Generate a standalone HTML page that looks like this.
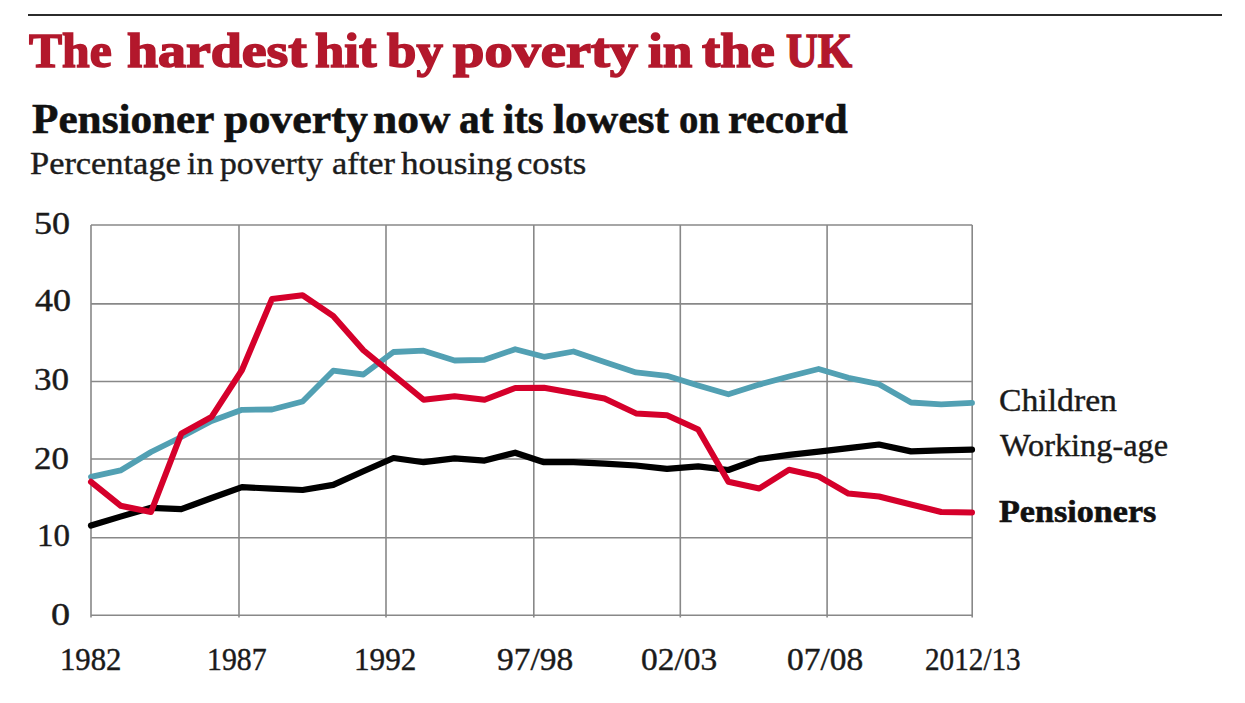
<!DOCTYPE html>
<html><head><meta charset="utf-8">
<style>
html,body{margin:0;padding:0;background:#fff;}
body{width:1245px;height:703px;position:relative;overflow:hidden;}
.t{position:absolute;white-space:nowrap;line-height:1;margin:0;font-family:"Liberation Serif",serif;transform-origin:0 0;}
svg{position:absolute;left:0;top:0;}
</style></head><body>
<svg width="1245" height="703" viewBox="0 0 1245 703">
<line x1="28" y1="15" x2="1222" y2="15" stroke="#2b2b2b" stroke-width="2"/>
<g stroke="#888888" stroke-width="1.6" fill="none">
<line x1="91" y1="225" x2="972.2" y2="225"/>
<line x1="91" y1="303.9" x2="972.2" y2="303.9"/>
<line x1="91" y1="381.5" x2="972.2" y2="381.5"/>
<line x1="91" y1="459" x2="972.2" y2="459"/>
<line x1="91" y1="537.8" x2="972.2" y2="537.8"/>
<line x1="91" y1="615.3" x2="972.2" y2="615.3"/>
<line x1="91" y1="225" x2="91" y2="617.5"/>
<line x1="239" y1="225" x2="239" y2="617.5"/>
<line x1="386" y1="225" x2="386" y2="617.5"/>
<line x1="533.8" y1="225" x2="533.8" y2="617.5"/>
<line x1="680.3" y1="225" x2="680.3" y2="617.5"/>
<line x1="827.1" y1="225" x2="827.1" y2="617.5"/>
<line x1="972.2" y1="225" x2="972.2" y2="617.5"/>
</g>
<g fill="none" stroke-linejoin="round" stroke-linecap="round">
<path stroke="#52a0b3" stroke-width="5.8" d="M91.0,476.8 L120.5,470.4 L151.0,452.0 L181.3,437.0 L211.6,421.0 L242.0,409.8 L272.0,409.5 L302.6,401.5 L333.2,370.7 L363.4,374.5 L393.5,352.0 L423.6,350.7 L454.6,360.5 L484.6,359.8 L515.2,349.2 L544.0,356.8 L573.5,351.5 L604.5,362.1 L636.0,372.4 L667.0,375.8 L698.2,385.5 L728.4,394.3 L759.2,384.6 L789.0,376.5 L818.6,369.0 L848.4,377.8 L879.0,384.2 L911.0,402.5 L941.2,404.3 L972.0,402.8"/>
<path stroke="#000" stroke-width="6.2" d="M91.0,525.5 L120.5,516.6 L151.0,507.8 L181.3,509.2 L211.6,498.0 L242.0,487.2 L272.0,488.6 L302.6,490.0 L333.2,484.9 L363.4,471.2 L393.5,458.0 L423.6,462.2 L454.6,458.4 L484.6,460.6 L515.2,452.7 L544.0,462.2 L573.5,462.2 L604.5,463.6 L636.0,465.5 L667.0,468.9 L698.2,466.3 L728.4,470.0 L759.2,458.9 L789.0,454.9 L818.6,451.7 L848.4,448.1 L879.0,444.5 L911.0,451.4 L941.2,450.4 L972.0,449.7"/>
<path stroke="#d5002b" stroke-width="6.0" d="M91.0,481.8 L120.5,505.7 L151.0,512.0 L181.3,433.7 L211.6,416.8 L242.0,370.0 L272.0,298.9 L302.6,295.3 L333.2,315.9 L363.4,350.3 L393.5,375.0 L423.6,399.8 L454.6,396.2 L484.6,399.7 L515.2,388.0 L544.0,387.8 L573.5,393.0 L604.5,398.5 L636.0,413.4 L667.0,415.3 L698.2,429.5 L728.4,481.7 L759.2,488.5 L789.0,469.7 L818.6,476.4 L848.4,493.6 L879.0,496.5 L911.0,504.5 L941.2,512.0 L972.0,512.4"/>
</g>
</svg>
<div class="t" id="title_0" style="left:28.98px;top:26.40px;font-size:49px;color:#b3182c;font-weight:bold;transform:scaleX(1.0116);-webkit-text-stroke:1.6px #b3182c;">The</div>
<div class="t" id="title_1" style="left:126.52px;top:26.40px;font-size:49px;color:#b3182c;font-weight:bold;transform:scaleX(1.1395);-webkit-text-stroke:1.6px #b3182c;">hardest</div>
<div class="t" id="title_2" style="left:315.00px;top:26.40px;font-size:49px;color:#b3182c;font-weight:bold;transform:scaleX(1.0742);-webkit-text-stroke:1.6px #b3182c;">hit</div>
<div class="t" id="title_3" style="left:386.50px;top:26.40px;font-size:49px;color:#b3182c;font-weight:bold;transform:scaleX(1.0791);-webkit-text-stroke:1.6px #b3182c;">by</div>
<div class="t" id="title_4" style="left:452.52px;top:26.40px;font-size:49px;color:#b3182c;font-weight:bold;transform:scaleX(1.1519);-webkit-text-stroke:1.6px #b3182c;">poverty</div>
<div class="t" id="title_5" style="left:647.50px;top:26.40px;font-size:49px;color:#b3182c;font-weight:bold;transform:scaleX(1.0830);-webkit-text-stroke:1.6px #b3182c;">in</div>
<div class="t" id="title_6" style="left:701.51px;top:26.40px;font-size:49px;color:#b3182c;font-weight:bold;transform:scaleX(1.1129);-webkit-text-stroke:1.6px #b3182c;">the</div>
<div class="t" id="title_7" style="left:785.55px;top:26.40px;font-size:49px;color:#b3182c;font-weight:bold;transform:scaleX(0.8993);-webkit-text-stroke:1.6px #b3182c;">UK</div>
<div class="t" id="sub_0" style="left:31.50px;top:97.20px;font-size:43px;color:#111;font-weight:bold;transform:scaleX(1.0052);-webkit-text-stroke:0.6px #111;">Pensioner</div>
<div class="t" id="sub_1" style="left:223.99px;top:97.20px;font-size:43px;color:#111;font-weight:bold;transform:scaleX(1.0208);-webkit-text-stroke:0.6px #111;">poverty</div>
<div class="t" id="sub_2" style="left:373.48px;top:97.20px;font-size:43px;color:#111;font-weight:bold;transform:scaleX(1.0103);-webkit-text-stroke:0.6px #111;">now</div>
<div class="t" id="sub_3" style="left:459.03px;top:97.20px;font-size:43px;color:#111;font-weight:bold;transform:scaleX(0.9642);-webkit-text-stroke:0.6px #111;">at</div>
<div class="t" id="sub_4" style="left:503.02px;top:97.20px;font-size:43px;color:#111;font-weight:bold;transform:scaleX(0.9431);-webkit-text-stroke:0.6px #111;">its</div>
<div class="t" id="sub_5" style="left:552.99px;top:97.20px;font-size:43px;color:#111;font-weight:bold;transform:scaleX(1.0123);-webkit-text-stroke:0.6px #111;">lowest</div>
<div class="t" id="sub_6" style="left:678.58px;top:97.20px;font-size:43px;color:#111;font-weight:bold;transform:scaleX(0.8991);-webkit-text-stroke:0.6px #111;">on</div>
<div class="t" id="sub_7" style="left:728.49px;top:97.20px;font-size:43px;color:#111;font-weight:bold;transform:scaleX(0.9894);-webkit-text-stroke:0.6px #111;">record</div>
<div class="t" id="subsub_0" style="left:29.98px;top:147.00px;font-size:32.5px;color:#1c1c1c;transform:scaleX(1.0582);-webkit-text-stroke:0.4px #1c1c1c;">Percentage</div>
<div class="t" id="subsub_1" style="left:186.52px;top:147.00px;font-size:32.5px;color:#1c1c1c;transform:scaleX(1.0405);-webkit-text-stroke:0.4px #1c1c1c;">in</div>
<div class="t" id="subsub_2" style="left:220.00px;top:147.00px;font-size:32.5px;color:#1c1c1c;transform:scaleX(1.0357);-webkit-text-stroke:0.4px #1c1c1c;">poverty</div>
<div class="t" id="subsub_3" style="left:332.48px;top:147.00px;font-size:32.5px;color:#1c1c1c;transform:scaleX(1.0569);-webkit-text-stroke:0.4px #1c1c1c;">after</div>
<div class="t" id="subsub_4" style="left:401.01px;top:147.00px;font-size:32.5px;color:#1c1c1c;transform:scaleX(1.0804);-webkit-text-stroke:0.4px #1c1c1c;">housing</div>
<div class="t" id="subsub_5" style="left:517.49px;top:147.00px;font-size:32.5px;color:#1c1c1c;transform:scaleX(1.0650);-webkit-text-stroke:0.4px #1c1c1c;">costs</div>
<div class="t" id="y50" style="left:34.05px;top:209.20px;font-size:30.5px;color:#1a1a1a;transform:scaleX(1.1817);-webkit-text-stroke:0.4px #1a1a1a;">50</div>
<div class="t" id="y40" style="left:34.80px;top:286.20px;font-size:30.5px;color:#1a1a1a;transform:scaleX(1.1801);-webkit-text-stroke:0.4px #1a1a1a;">40</div>
<div class="t" id="y30" style="left:34.23px;top:365.40px;font-size:30.5px;color:#1a1a1a;transform:scaleX(1.1467);-webkit-text-stroke:0.4px #1a1a1a;">30</div>
<div class="t" id="y20" style="left:34.25px;top:444.20px;font-size:30.5px;color:#1a1a1a;transform:scaleX(1.1426);-webkit-text-stroke:0.4px #1a1a1a;">20</div>
<div class="t" id="y10" style="left:36.94px;top:521.00px;font-size:30.5px;color:#1a1a1a;transform:scaleX(1.0807);-webkit-text-stroke:0.4px #1a1a1a;">10</div>
<div class="t" id="y0" style="left:50.79px;top:599.80px;font-size:30.5px;color:#1a1a1a;transform:scaleX(1.2515);-webkit-text-stroke:0.4px #1a1a1a;">0</div>
<div class="t" id="x1982" style="left:60.35px;top:644.80px;font-size:30.5px;color:#1a1a1a;transform:scaleX(1.0081);-webkit-text-stroke:0.4px #1a1a1a;">1982</div>
<div class="t" id="x1987" style="left:207.24px;top:644.80px;font-size:30.5px;color:#1a1a1a;transform:scaleX(0.9763);-webkit-text-stroke:0.4px #1a1a1a;">1987</div>
<div class="t" id="x1992" style="left:354.14px;top:644.80px;font-size:30.5px;color:#1a1a1a;transform:scaleX(1.0221);-webkit-text-stroke:0.4px #1a1a1a;">1992</div>
<div class="t" id="x9798" style="left:496.73px;top:644.80px;font-size:30.5px;color:#1a1a1a;transform:scaleX(1.0960);-webkit-text-stroke:0.4px #1a1a1a;">97/98</div>
<div class="t" id="x0203" style="left:641.32px;top:644.80px;font-size:30.5px;color:#1a1a1a;transform:scaleX(1.0960);-webkit-text-stroke:0.4px #1a1a1a;">02/03</div>
<div class="t" id="x0708" style="left:787.33px;top:644.80px;font-size:30.5px;color:#1a1a1a;transform:scaleX(1.0960);-webkit-text-stroke:0.4px #1a1a1a;">07/08</div>
<div class="t" id="x201213" style="left:924.83px;top:644.80px;font-size:30.5px;color:#1a1a1a;transform:scaleX(0.9574);-webkit-text-stroke:0.4px #1a1a1a;">2012/13</div>
<div class="t" id="lchild" style="left:998.94px;top:384.00px;font-size:32px;color:#1a1a1a;transform:scaleX(1.0534);-webkit-text-stroke:0.4px #1a1a1a;">Children</div>
<div class="t" id="lwork" style="left:1000.39px;top:429.40px;font-size:32px;color:#1a1a1a;transform:scaleX(1.0112);-webkit-text-stroke:0.4px #1a1a1a;">Working-age</div>
<div class="t" id="lpens" style="left:999.18px;top:495.40px;font-size:32px;color:#111;font-weight:bold;transform:scaleX(1.0667);-webkit-text-stroke:0.6px #111;">Pensioners</div>
</body></html>
